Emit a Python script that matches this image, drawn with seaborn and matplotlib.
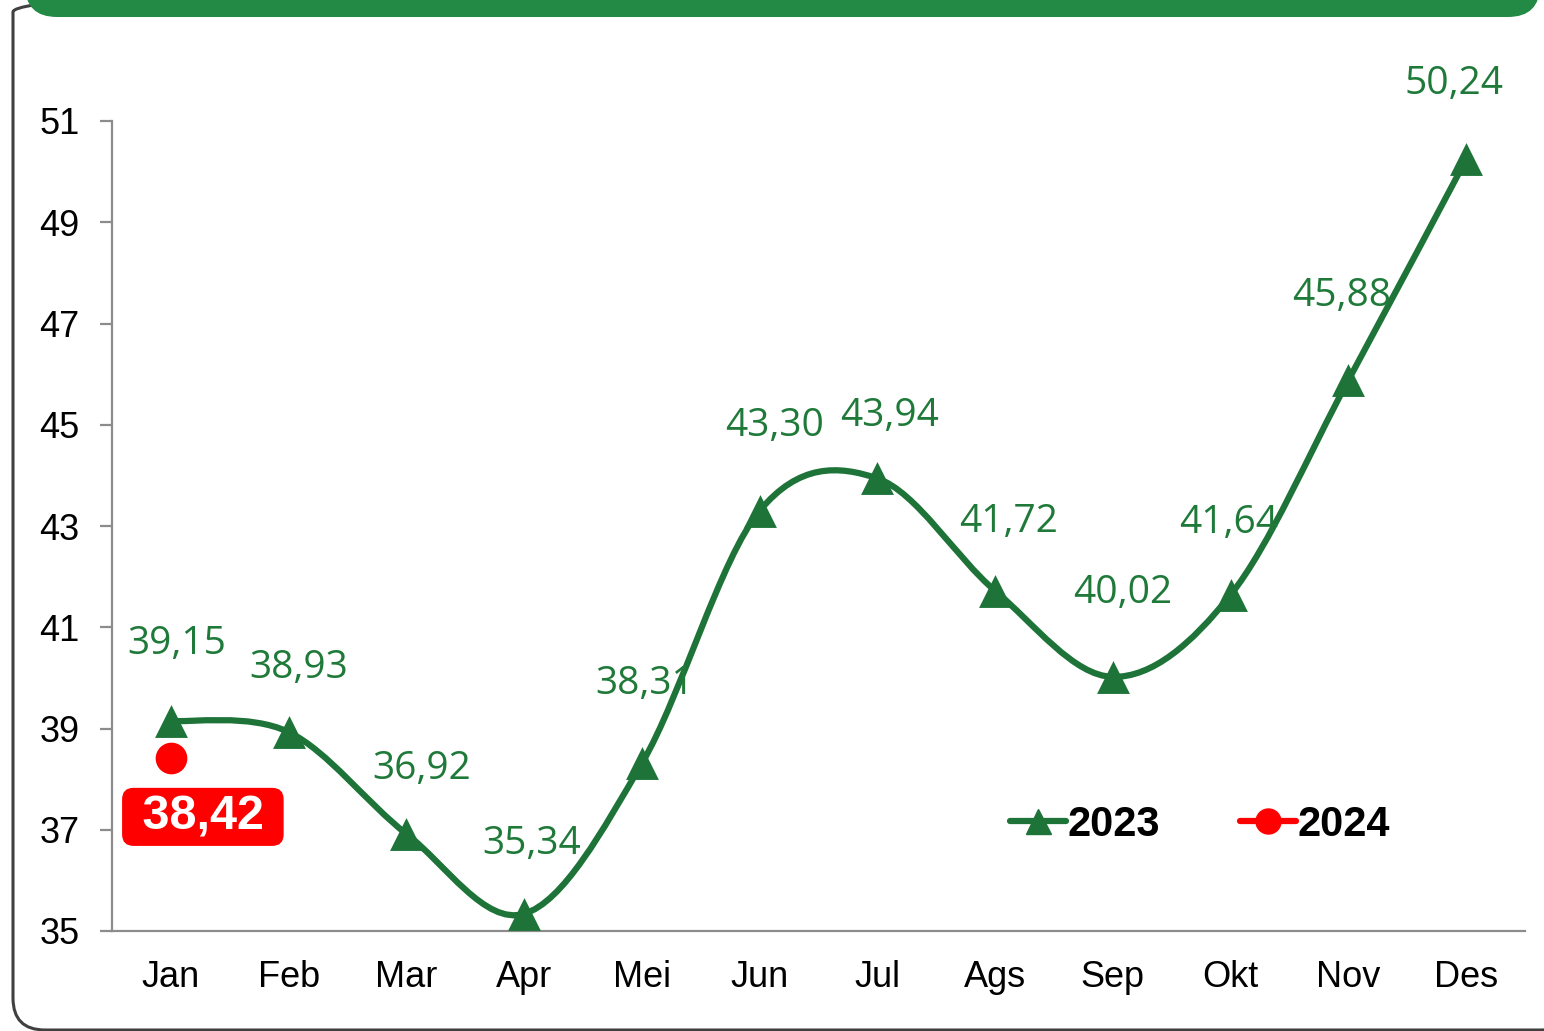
import matplotlib
matplotlib.use('Agg')
import matplotlib.pyplot as plt
from matplotlib.path import Path
from matplotlib.patches import PathPatch, FancyBboxPatch
from matplotlib.lines import Line2D
from matplotlib.transforms import IdentityTransform
import numpy as np
import pandas as pd
import seaborn as sns

# Data
months = ['Jan', 'Feb', 'Mar', 'Apr', 'Mei', 'Jun', 'Jul', 'Ags', 'Sep', 'Okt', 'Nov', 'Des']
values_2023 = [39.15, 38.93, 36.92, 35.34, 38.31, 43.30, 43.94, 41.72, 40.02, 41.64, 45.88, 50.24]
months_2024 = ['Jan']
values_2024 = [38.42]
y_ticks = [35, 37, 39, 41, 43, 45, 47, 49, 51]

# label offsets (pixels) for the 2023 data labels
label_offsets = [(6, 77), (10, 64), (15, 65), (8, 70), (3, 79), (15, 85),
                 (12, 62), (13, 69), (10, 84), (-2, 72), (-7, 84), (-12, 75)]

GREEN = '#1E7438'
LABEL_GREEN = '#1F7A3A'
RED = '#FF0000'
AXIS_GRAY = '#8C8C8C'

df23 = pd.DataFrame({'month': months, 'value': values_2023})
df23['x'] = range(len(months))
df24 = pd.DataFrame({'month': months_2024, 'value': values_2024})
df24['x'] = [months.index(m) for m in months_2024]

sns.set_theme(style='white')
plt.rcParams['font.family'] = ['Liberation Sans', 'DejaVu Sans']
plt.rcParams['text.color'] = 'black'

W, H = 1544, 1031
fig = plt.figure(figsize=(W / 100, H / 100), dpi=100)
fig.patch.set_facecolor('white')

# outer rounded frame and green header band (pixel coordinates)
frame = FancyBboxPatch((13, 1), 1560, 1050, boxstyle='round,pad=0,rounding_size=32',
                       transform=IdentityTransform(), fc='none', ec='#404040', lw=2.2, zorder=0)
fig.patches.append(frame)
band = FancyBboxPatch((25, H - 17), 1515, 80, boxstyle='round,pad=0,rounding_size=32',
                      transform=IdentityTransform(), fc='#238A46', ec='none', zorder=1)
fig.patches.append(band)

ax = fig.add_axes([112 / W, 1 - 931 / H, (1525 - 112) / W, (931 - 121) / H])
ax.set_facecolor('none')


# smooth (Excel-like) curve through the 2023 points, built as bezier path
def smooth_path(xs, ys):
    pts = np.column_stack([xs, ys]).astype(float)
    n = len(pts)
    verts = [pts[0]]
    codes = [Path.MOVETO]
    for i in range(n - 1):
        p0 = pts[max(i - 1, 0)]
        p1 = pts[i]
        p2 = pts[i + 1]
        p3 = pts[min(i + 2, n - 1)]
        c1 = p1 + (p2 - p0) / 6.0
        c2 = p2 - (p3 - p1) / 6.0
        verts += [c1, c2, p2]
        codes += [Path.CURVE4] * 3
    return Path(verts, codes)


curve = PathPatch(smooth_path(df23['x'], df23['value']), fc='none', ec=GREEN,
                  lw=4.5, capstyle='round', joinstyle='round', zorder=2)
ax.add_patch(curve)

sns.scatterplot(data=df23, x='x', y='value', marker='^', s=560, color=GREEN,
                edgecolor=GREEN, linewidth=0, ax=ax, zorder=3, clip_on=False, legend=False)
sns.scatterplot(data=df24, x='x', y='value', marker='o', s=520, color=RED,
                edgecolor=RED, linewidth=0, ax=ax, zorder=3, clip_on=False, legend=False)

# data labels
for (xi, v), (dx, dy) in zip(zip(df23['x'], df23['value']), label_offsets):
    ax.annotate(f'{v:.2f}'.replace('.', ','), (xi, v), xytext=(dx, dy),
                textcoords='offset pixels', ha='center', va='center',
                fontsize=28, color=LABEL_GREEN, family=['Open Sans', 'DejaVu Sans'],
                annotation_clip=False, zorder=4)

for xi, v in zip(df24['x'], df24['value']):
    ax.annotate(' ' + f'{v:.2f}'.replace('.', ',') + ' ', (xi, v), xytext=(32, -59),
                textcoords='offset pixels', ha='center', va='center',
                fontsize=35, fontweight='bold', color='white',
                bbox=dict(boxstyle='round,pad=0.12,rounding_size=0.22', fc=RED, ec=RED),
                annotation_clip=False, zorder=4)

# axes styling
ax.set_xlim(-0.5, len(months) - 0.5)
ax.set_ylim(35, 51)
ax.set_yticks(y_ticks)
ax.set_yticklabels([str(t) for t in y_ticks])
ax.set_xticks(range(len(months)))
ax.set_xticklabels(months)
ax.set_xticks(np.arange(-0.5, len(months), 1), minor=True)
ax.set_xlabel('')
ax.set_ylabel('')

for side in ['top', 'right']:
    ax.spines[side].set_visible(False)
for side in ['left', 'bottom']:
    ax.spines[side].set_color(AXIS_GRAY)
    ax.spines[side].set_linewidth(1.6)

ax.tick_params(axis='x', which='major', length=0, pad=21, labelsize=26, labelcolor='black')
ax.tick_params(axis='x', which='minor', length=7, width=1.6, color=AXIS_GRAY, direction='out')
ax.tick_params(axis='y', which='major', length=8.5, width=1.6, color=AXIS_GRAY,
               direction='out', pad=15, labelsize=26, labelcolor='black', left=True)

# legend
handles = [
    Line2D([], [], color=GREEN, lw=4.5, marker='^', markersize=18, solid_capstyle='round'),
    Line2D([], [], color=RED, lw=4.5, marker='o', markersize=18, solid_capstyle='round'),
]
leg = ax.legend(handles, ['2023', '2024'], loc='center', bbox_to_anchor=(0.77, 0.131),
                ncol=2, frameon=False, handlelength=1.35, handletextpad=0.05,
                columnspacing=1.9, prop={'weight': 'bold', 'size': 30})
for t in leg.get_texts():
    t.set_color('black')

fig.savefig('out.png', dpi=100, facecolor='white')
